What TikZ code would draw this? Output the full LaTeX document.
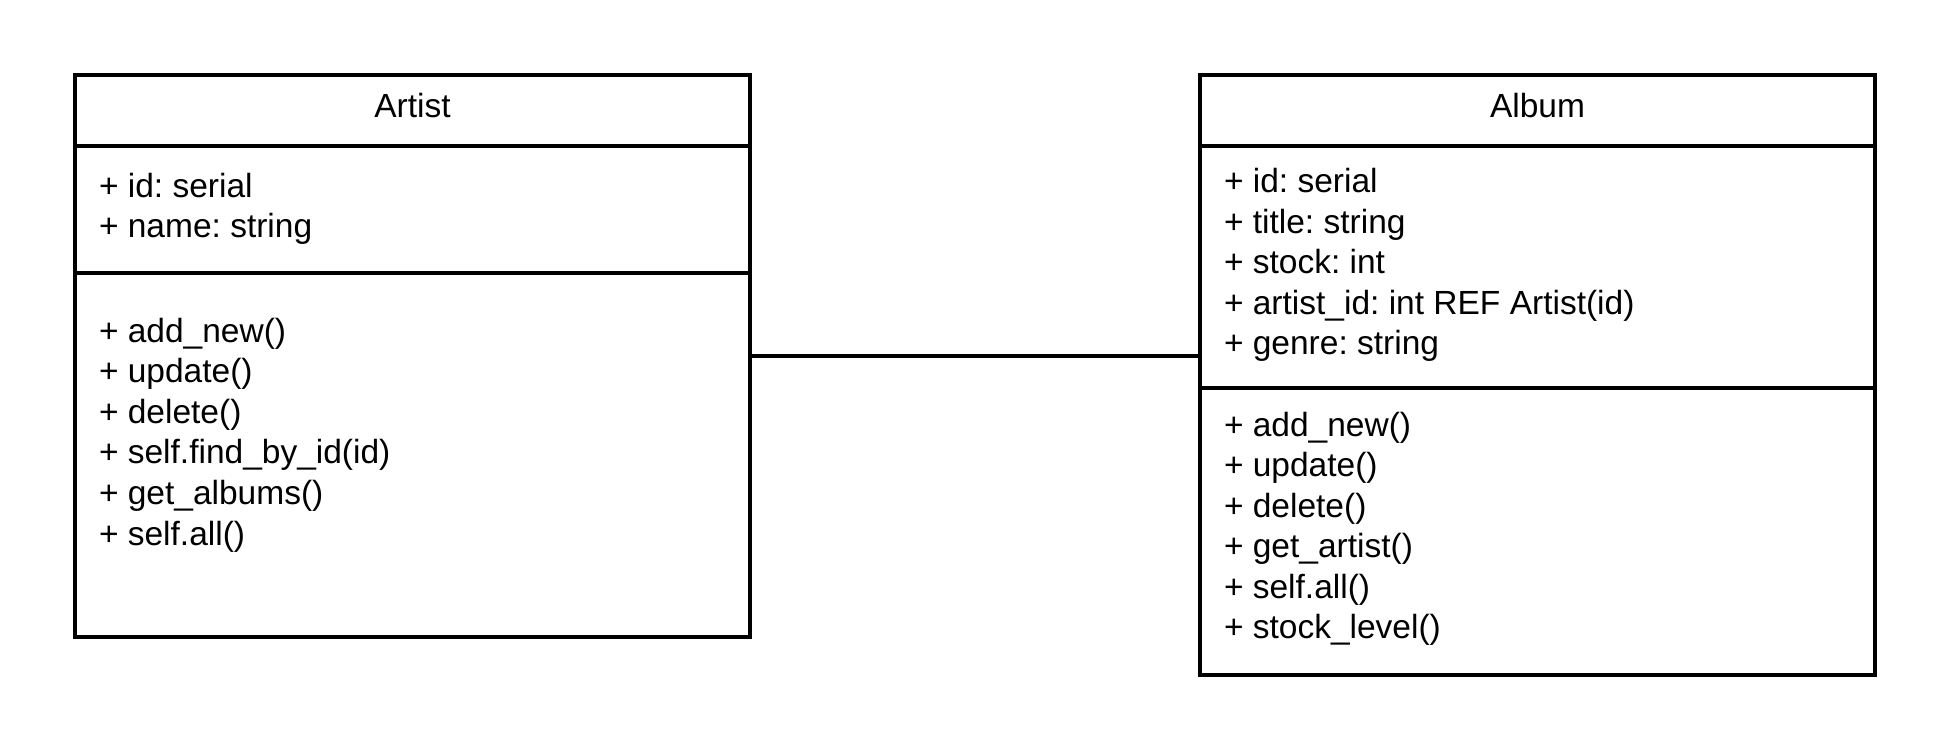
\documentclass[tikz,border=0pt]{standalone}
\usepackage{fontspec}
\setmainfont{Liberation Sans}
\frenchspacing
\begin{document}
\begin{tikzpicture}[x=1pt,y=-1pt,
  umlbox/.style={draw=black, line width=3.4pt, fill=white, inner sep=0pt, outer sep=0pt, minimum width=675pt, anchor=north west},
  divider/.style={draw=black, line width=3.4pt},
  link/.style={draw=black, line width=3.4pt},
  txt/.style={inner sep=0pt, outer sep=0pt, anchor=base west, font=\fontsize{33.5}{40}\selectfont},
  ttl/.style={inner sep=0pt, outer sep=0pt, anchor=base, font=\fontsize{33.5}{40}\selectfont}]
\useasboundingbox[fill=white] (0,0) rectangle (1950,750);

% Artist
\node[umlbox, minimum height=562pt] (artist) at (75,75) {};
\draw[divider] (75,146) coordinate (ad1a) -- (750,146) coordinate (ad1b);
\draw[divider] (75,273) coordinate (ad2a) -- (750,273) coordinate (ad2b);
\node[ttl] (artistT) at (412.5,117) {Artist};
\node[txt] (aa1) at (99,197) {+ id: serial};
\node[txt] (aa2) at (99,237) {+ name: string};
\node[txt] (am1) at (99,342) {+ add\_new()};
\node[txt] (am2) at (99,382.6) {+ update()};
\node[txt] (am3) at (99,423.2) {+ delete()};
\node[txt] (am4) at (99,463.8) {+ self.find\_by\_id(id)};
\node[txt] (am5) at (99,504.4) {+ get\_albums()};
\node[txt] (am6) at (99,545) {+ self.all()};

% Album
\node[umlbox, minimum height=600pt] (album) at (1200,75) {};
\draw[divider] (1200,146) coordinate (bd1a) -- (1875,146) coordinate (bd1b);
\draw[divider] (1200,388) coordinate (bd2a) -- (1875,388) coordinate (bd2b);
\node[ttl] (albumT) at (1537.5,117) {Album};
\node[txt] (ba1) at (1224,192.5) {+ id: serial};
\node[txt] (ba2) at (1224,233) {+ title: string};
\node[txt] (ba3) at (1224,273.5) {+ stock: int};
\node[txt] (ba4) at (1224,314) {+ artist\_id: int REF Artist(id)};
\node[txt] (ba5) at (1224,354.5) {+ genre: string};
\node[txt] (bm1) at (1224,436) {+ add\_new()};
\node[txt] (bm2) at (1224,476.5) {+ update()};
\node[txt] (bm3) at (1224,517) {+ delete()};
\node[txt] (bm4) at (1224,557.5) {+ get\_artist()};
\node[txt] (bm5) at (1224,598) {+ self.all()};
\node[txt] (bm6) at (1224,638.5) {+ stock\_level()};

% connector
\draw[link] (artist.east) -- (artist.east -| album.west);
\end{tikzpicture}
\end{document}
